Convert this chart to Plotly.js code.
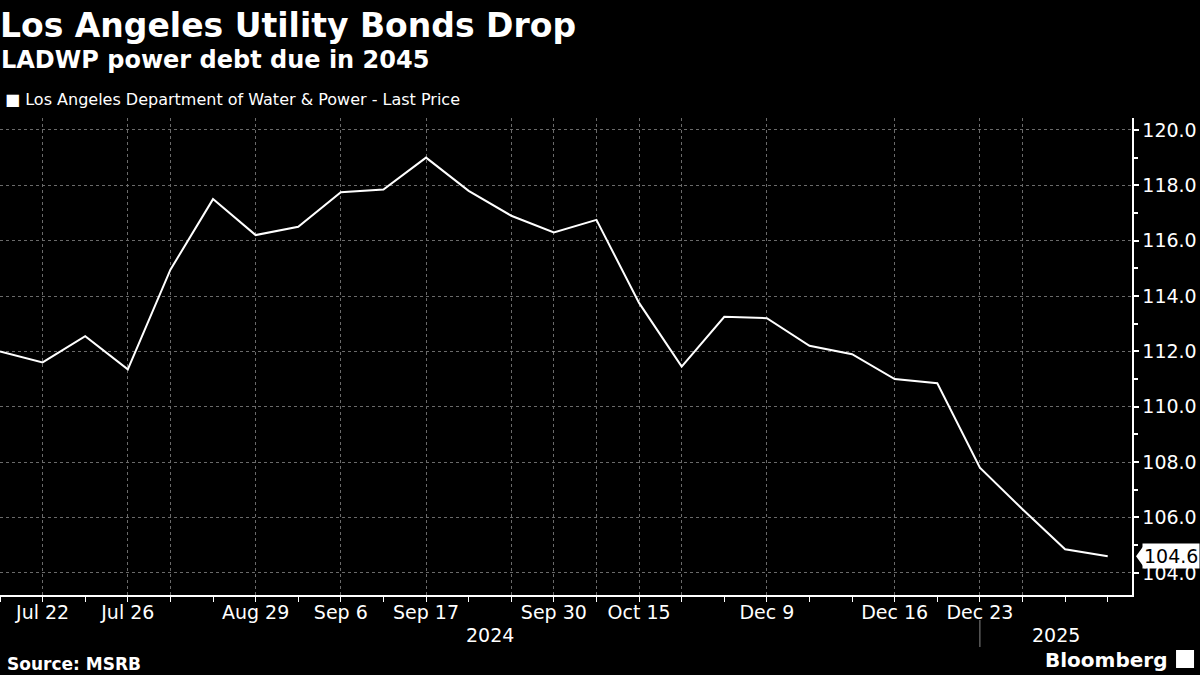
<!DOCTYPE html>
<html>
<head>
<meta charset="utf-8">
<script src="https://cdn.plot.ly/plotly-3.0.1.min.js"></script>
<style>
html,body{margin:0;padding:0;background:#000;}
#chart{width:1200px;height:675px;}
</style>
</head>
<body>
<div id="chart"></div>
<script>
// ---- data ----
const titleText = "Los Angeles Utility Bonds Drop";
const subtitleText = "LADWP power debt due in 2045";
const seriesName = "Los Angeles Department of Water & Power - Last Price";
const sourceText = "Source: MSRB";

// observation index (points are equally spaced on the chart)
const pointIdx = [0,1,2,3,4,5,6,7,8,9,10,11,12,13,14,15,16,17,18,19,20,21,22,23,24,25,26];
const lastPrice = [112.0,111.6,112.55,111.35,114.95,117.5,116.2,116.5,117.75,117.85,119.0,117.8,116.9,116.3,116.75,113.75,111.45,113.25,113.2,112.2,111.9,111.0,110.85,107.8,106.3,104.85,104.6];

// labelled / gridded positions on the x axis
const gridIdx   = [1,3,4,6,8,10,12,13,14,15,16,18,21,23,24];
const gridLabels= ["Jul 22","Jul 26","","Aug 29","Sep 6","Sep 17","","Sep 30","","Oct 15","","Dec 9","Dec 16","Dec 23",""];
const years = ["2024","2025"];
const yearBreakIdx = 23;

const xRange = [0, 26.57];
const yRange = [103.2, 120.43];

const fontFam = "'DejaVu Sans', 'Open Sans', sans-serif";

const trace = {
  x: pointIdx, y: lastPrice, type: 'scatter', mode: 'lines',
  line: {color: '#ffffff', width: 2}, name: seriesName, showlegend: false,
  hoverinfo: 'skip'
};

const lastVal = lastPrice[lastPrice.length - 1];

const layout = {
  width: 1200, height: 675,
  paper_bgcolor: '#000000', plot_bgcolor: '#000000',
  margin: {l: 0, r: 68, t: 118, b: 80},
  font: {family: fontFam, color: '#ffffff'},
  xaxis: {
    range: xRange, tickmode: 'array', tickvals: gridIdx, ticktext: gridLabels,
    showgrid: true, gridcolor: '#6a6a6a', griddash: '3px,3px', gridwidth: 1,
    zeroline: false, showline: true, linecolor: '#ffffff', linewidth: 1.5,
    ticks: '', 
    tickfont: {family: fontFam, size: 19, color: '#ffffff'},
    minor: {dtick: 1, tick0: 0, ticks: 'outside', ticklen: 5, tickcolor: '#ffffff', showgrid: false},
    fixedrange: true
  },
  yaxis: {
    range: yRange, side: 'right', dtick: 2, tick0: 104, tickformat: '.1f',
    showgrid: true, gridcolor: '#6a6a6a', griddash: '3px,3px', gridwidth: 1,
    zeroline: false, showline: true, linecolor: '#ffffff', linewidth: 1.5,
    ticks: 'outside', ticklen: 5, tickwidth: 2, tickcolor: '#ffffff',
    tickfont: {family: fontFam, size: 19, color: '#ffffff'},
    minor: {dtick: 1, tick0: 104, ticks: 'outside', ticklen: 4, tickcolor: '#ffffff', showgrid: false},
    fixedrange: true
  },
  shapes: [
    {type: 'line', xref: 'x', yref: 'paper', x0: yearBreakIdx, x1: yearBreakIdx,
     y0: -0.0524, y1: -0.109, line: {color: '#888888', width: 1}},
    // pointer of the last-value tag
    {type: 'path', xref: 'paper', yref: 'y', xsizemode: 'pixel', ysizemode: 'pixel',
     xanchor: 1, yanchor: lastVal, path: 'M4,0 L12,-11 L12,11 Z',
     fillcolor: '#ffffff', line: {width: 0}},
    // Bloomberg logo block
    {type: 'rect', xref: 'paper', yref: 'paper', x0: 1.0389, x1: 1.0548, y0: -0.153, y1: -0.1153,
     fillcolor: '#ffffff', line: {width: 0}}
  ],
  annotations: [
    {text: '<b>' + titleText + '</b>', xref: 'paper', yref: 'paper', x: 0, xshift: -2, y: 1.193,
     xanchor: 'left', yanchor: 'middle', showarrow: false,
     font: {family: fontFam, size: 33, color: '#ffffff'}},
    {text: '<b>' + subtitleText + '</b>', xref: 'paper', yref: 'paper', x: 0, xshift: -1, y: 1.1216,
     xanchor: 'left', yanchor: 'middle', showarrow: false,
     font: {family: fontFam, size: 24, color: '#ffffff'}},
    {text: '■ ' + seriesName, xref: 'paper', yref: 'paper', x: 0.003, y: 1.038,
     xanchor: 'left', yanchor: 'middle', showarrow: false,
     font: {family: fontFam, size: 16, color: '#ffffff'}},
    {text: years[0], xref: 'x', yref: 'paper', x: (xRange[0] + yearBreakIdx) / 2, y: -0.084,
     xanchor: 'center', yanchor: 'middle', showarrow: false,
     font: {family: fontFam, size: 19, color: '#ffffff'}},
    {text: years[1], xref: 'x', yref: 'paper', x: (yearBreakIdx + xRange[1]) / 2, y: -0.084,
     xanchor: 'center', yanchor: 'middle', showarrow: false,
     font: {family: fontFam, size: 19, color: '#ffffff'}},
    {text: '<b>' + sourceText + '</b>', xref: 'paper', yref: 'paper', x: 0.004, y: -0.1447,
     xanchor: 'left', yanchor: 'middle', showarrow: false,
     font: {family: fontFam, size: 17, color: '#ffffff'}},
    {text: '<b>Bloomberg</b>', xref: 'paper', yref: 'paper', x: 1.0325, y: -0.136,
     xanchor: 'right', yanchor: 'middle', showarrow: false,
     font: {family: fontFam, size: 20, color: '#ffffff'}},
    {text: lastVal.toFixed(1), xref: 'paper', yref: 'y', x: 1, y: lastVal, xshift: 10,
     xanchor: 'left', yanchor: 'middle', showarrow: false, bgcolor: '#ffffff',
     borderpad: 1, font: {family: fontFam, size: 19, color: '#000000'}}
  ]
};

Plotly.newPlot('chart', [trace], layout, {displayModeBar: false, staticPlot: true});
</script>
</body>
</html>
